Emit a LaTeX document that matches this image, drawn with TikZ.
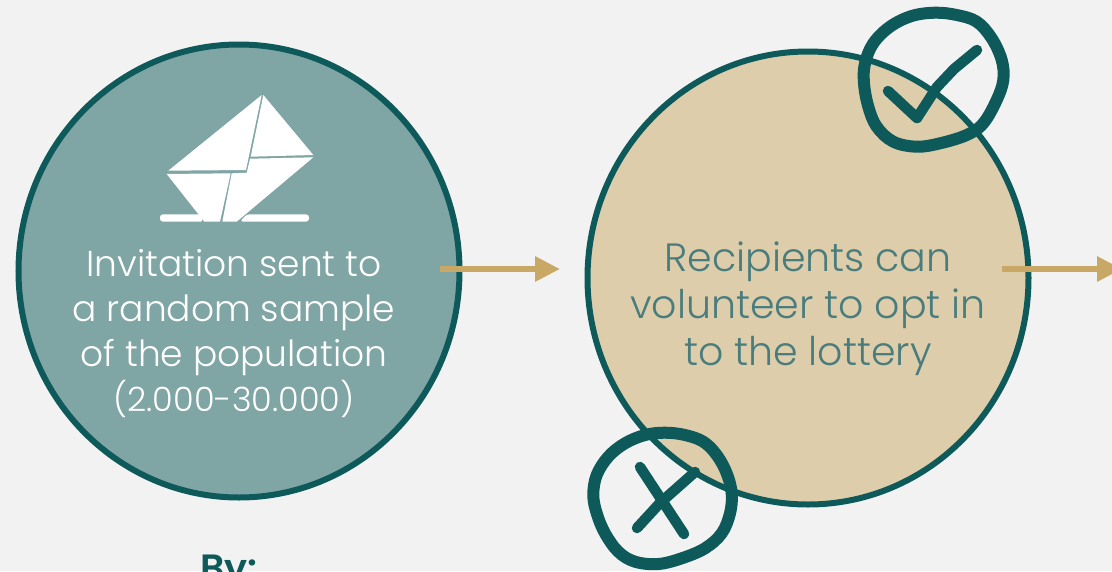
\documentclass[tikz,border=0pt]{standalone}
\usepackage{fontspec}
\setmainfont{Poppins Light}
\newfontfamily\boldf{Poppins SemiBold}
\usetikzlibrary{arrows.meta}
\definecolor{bgc}{HTML}{F2F2F2}
\definecolor{teal}{HTML}{0E5A5A}
\definecolor{sagec}{HTML}{80A5A5}
\definecolor{tanc}{HTML}{DDCDAA}
\definecolor{goldc}{HTML}{C9A866}
\definecolor{softt}{HTML}{497C7D}
\tikzset{
  x=1pt,y=-1pt,
  bigcirc/.style={draw=teal,line width=6pt},
  flow/.style={draw=goldc,line width=6pt,-{Triangle[length=25pt,width=24pt]}},
  hand/.style={draw=teal,line width=12pt,line cap=round,line join=round},
  mark stroke/.style={draw=teal,line width=10.5pt,line cap=round,line join=round},
  lbl/.style={align=center,inner sep=0pt,anchor=center},
  paper/.style={fill=white,draw=none}
}
\begin{document}
\begin{tikzpicture}
\useasboundingbox (0,0) rectangle (1112,571);
\clip (0,0) rectangle (1112,571);
\fill[bgc] (0,0) rectangle (1112,571);
% big circles
\draw[bigcirc,fill=sagec] (239,271) ellipse [x radius=220.5,y radius=226.5];
\draw[bigcirc,fill=tanc] (808,278) ellipse [x radius=220.5,y radius=226.5];
% envelope
\fill[paper] (168.3,170.7)--(261.7,95)--(246,170)--cycle;
\fill[paper] (263.3,95)--(313.3,155)--(250.7,156.7)--cycle;
\fill[paper] (166.7,174)--(230.7,173.3)--(220,221.7)--(204.3,221.7)--cycle;
\fill[paper] (231.7,173.3)--(246.7,172.7)--(250,158.7)--(313.3,157.3)--(236.7,221.7)--(222.3,221.7)--cycle;
\fill[paper,rounded corners=3pt] (160,214.3)--(200.7,214.3)--(203.3,221.7)--(160,221.7)--cycle;
\fill[paper,rounded corners=3pt] (246.7,214.3)--(309,214.3)--(309,221.7)--(240,221.7)--cycle;
% labels
\node[lbl,text=white,font=\fontsize{36}{45}\selectfont] (invite) at (234,334) {Invitation sent to\\a random sample\\of the population\\{\fontsize{33.5}{45}\selectfont (2.000-30.000)}};
\node[lbl,text=softt,font=\fontsize{39.5}{47}\selectfont] (recip) at (808,309) {Recipients can\\volunteer to opt in\\to the lottery};
\node[anchor=base,inner sep=0pt,text=teal,font=\boldf\fontsize{38}{40}\selectfont] (by) at (229,581) {By:};
% arrows
\coordinate (a1s) at (440,269);
\coordinate (a1e) at (560,269);
\coordinate (a2s) at (1002,269);
\coordinate (a2e) at (1122,269);
\draw[flow] (a1s) -- (a1e);
\draw[flow] (a2s) -- (a2e);
% check mark in hand-drawn circle
\draw[hand] plot[smooth cycle,tension=0.6] coordinates {(935,12.7)(956.7,15)(976.7,21.7)(991.7,38.3)(1001.7,60)(1003.3,80)(996.7,100)(983.3,123.3)(966.7,135)(940,143.3)(916.7,146.7)(893.3,141.7)(876.7,126.7)(868.3,106.7)(864,83.3)(865,63.3)(873.3,43.3)(890,26.7)(911.7,16)};
\draw[mark stroke] (888,91) -- (917,118) -- (937,87) -- (954,69) -- (977,50);
% cross in hand-drawn circle
\draw[hand] plot[smooth cycle,tension=0.6] coordinates {(665,432.7)(685,435)(703.3,441.7)(716.7,455)(726.7,473.3)(731.7,493.3)(730,513.3)(721.7,533.3)(705,548.3)(681.7,558.3)(658.3,564)(635,561.7)(618.3,551.7)(605,533.3)(596.7,513.3)(593.3,495)(596.7,475)(608.3,456.7)(625,443.3)(645,435)};
\draw[mark stroke] (640,467) -- (684,534);
\draw[mark stroke] (637,528) -- (660,503) -- (695,472);
\end{tikzpicture}
\end{document}
